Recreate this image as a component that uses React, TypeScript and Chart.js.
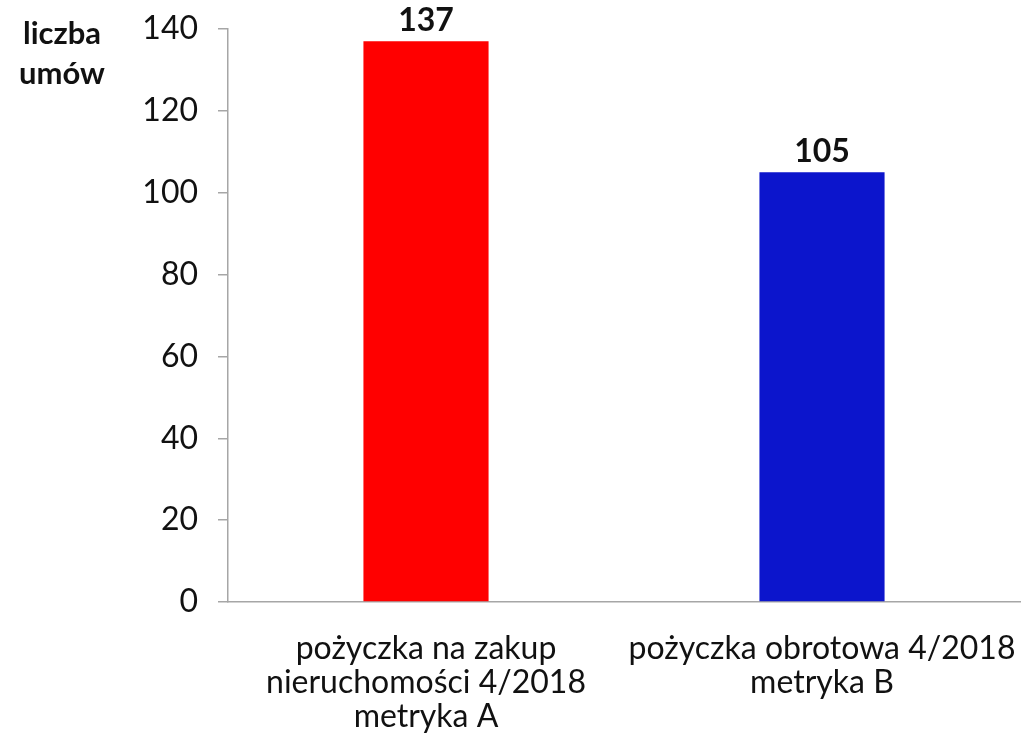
import React, { useEffect, useRef } from "react";
import { Chart, registerables } from "chart.js";

Chart.register(...registerables);

const categories: string[][] = [
  ["pożyczka na zakup", "nieruchomości 4/2018", "metryka A"],
  ["pożyczka obrotowa 4/2018", "metryka B"],
];
const values: number[] = [137, 105];
const barColors: string[] = ["#FF0000", "#0C15CC"];
const yTicks: number[] = [0, 20, 40, 60, 80, 100, 120, 140];
const yTitle: string[] = ["liczba", "umów"];

const FONT = "Lato, 'Noto Sans', sans-serif";

export default function App() {
  const ref = useRef<HTMLCanvasElement | null>(null);

  useEffect(() => {
    if (!ref.current) return;
    const valueLabels = {
      id: "valueLabels",
      afterDatasetsDraw(chart: any) {
        const ctx = chart.ctx;
        const meta = chart.getDatasetMeta(0);
        ctx.save();
        ctx.font = `bold 32px ${FONT}`;
        ctx.fillStyle = "#111";
        ctx.textAlign = "center";
        ctx.textBaseline = "bottom";
        meta.data.forEach((el: any, i: number) => {
          ctx.fillText(String(values[i]), el.x, el.y - 5);
        });
        ctx.restore();
      },
    };
    const titlePlugin = {
      id: "yTitleText",
      afterDraw(chart: any) {
        const ctx = chart.ctx;
        ctx.save();
        ctx.font = `bold 31px ${FONT}`;
        ctx.fillStyle = "#111";
        ctx.textAlign = "center";
        ctx.textBaseline = "middle";
        yTitle.forEach((t, i) => {
          ctx.fillText(t, 62, chart.chartArea.top + 5 + i * 40);
        });
        ctx.restore();
      },
    };
    const chart = new Chart(ref.current, {
      type: "bar",
      data: {
        labels: categories,
        datasets: [
          {
            data: values,
            backgroundColor: barColors,
            borderWidth: 0,
            barPercentage: 0.316,
            categoryPercentage: 1,
          },
        ],
      },
      options: {
        animation: false,
        responsive: false,
        maintainAspectRatio: false,
        layout: { padding: { top: 29, right: 5, left: 0, bottom: 0 } },
        plugins: {
          legend: { display: false },
          tooltip: { enabled: false },
          title: { display: false },
        },
        scales: {
          x: {
            grid: { display: false },
            border: { display: true, color: "#A6A6A6", width: 1.5 },
            ticks: {
              color: "#111",
              font: { family: FONT, size: 32, lineHeight: 1.06 },
              padding: 22,
              maxRotation: 0,
              autoSkip: false,
            },
            afterFit(scale: any) {
              scale.height = 136;
              scale.paddingLeft = 0;
              scale.paddingRight = 0;
            },
          },
          y: {
            min: 0,
            max: 140,
            afterBuildTicks(scale: any) {
              scale.ticks = yTicks.map((v) => ({ value: v }));
            },
            grid: {
              drawOnChartArea: false,
              drawTicks: true,
              tickLength: 10,
              color: "#A6A6A6",
              lineWidth: 1.5,
            },
            border: { display: true, color: "#A6A6A6", width: 1.5 },
            ticks: {
              color: "#111",
              font: { family: FONT, size: 32 },
              padding: 20,
            },
            afterFit(scale: any) {
              scale.width = 228;
              scale.paddingTop = 0;
              scale.paddingBottom = 0;
            },
          },
        },
      },
      plugins: [valueLabels, titlePlugin],
    });
    return () => chart.destroy();
  }, []);

  return (
    <div style={{ position: "fixed", left: 0, top: 0, width: 1025, height: 738, background: "#fff" }}>
      <canvas ref={ref} width={1025} height={738} style={{ width: 1025, height: 738 }} />
    </div>
  );
}
